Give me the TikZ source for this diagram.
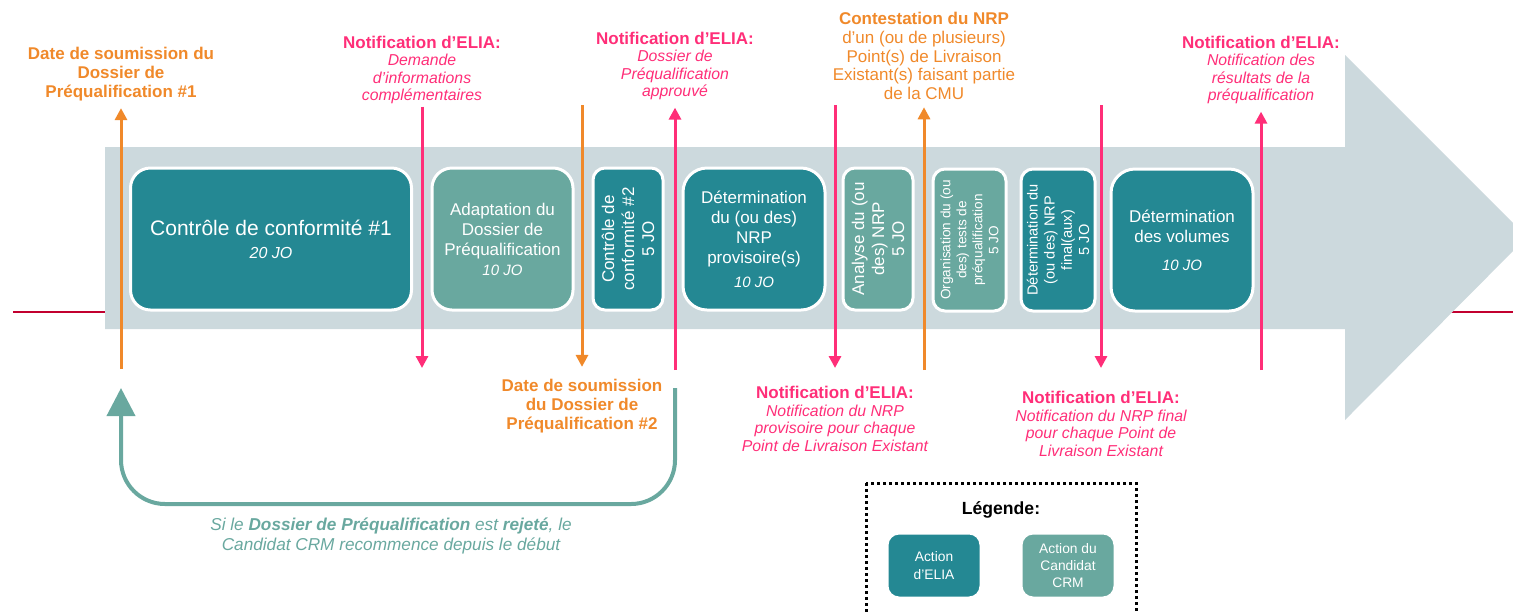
\documentclass[tikz,border=0pt]{standalone}
\usepackage{fontspec}
\setmainfont{Liberation Sans}
\usetikzlibrary{arrows.meta}
\definecolor{eliateal}{HTML}{248893}
\definecolor{crmteal}{HTML}{69A89F}
\definecolor{arrowgrey}{HTML}{CCD9DD}
\definecolor{elorange}{HTML}{F0892A}
\definecolor{elpink}{HTML}{FF2E78}
\definecolor{axisred}{HTML}{C2002F}
\newcommand{\dur}[1]{{\fontsize{7.5}{9}\selectfont\itshape #1 JO}}
\newcommand{\itl}[1]{{\fontsize{7.9}{8.8}\selectfont\itshape #1}}

\begin{document}
\begin{tikzpicture}[x=0.5pt,y=-0.5pt,
	box/.style={draw=white,line width=1.5pt,rounded corners=10pt,text=white,align=center,inner sep=0pt,font=\fontsize{8.5}{10}\selectfont},
	elia/.style={box,fill=eliateal},
	crm/.style={box,fill=crmteal},
	slim/.style={rotate=90,rounded corners=6pt,minimum width=71pt},
	lab/.style={align=center,inner sep=0pt,font=\fontsize{8.5}{9.4}\selectfont},
	boldlab/.style={lab,text=elorange,font=\fontsize{8.5}{9.4}\selectfont\bfseries},
	pinklab/.style={lab,text=elpink,font=\fontsize{8.5}{8.8}\selectfont},
	pinkline/.style={draw=elpink,line width=1.5pt,-{Triangle[length=6pt,width=6pt]}},
	orangeline/.style={pinkline,draw=elorange}]
		\useasboundingbox (0,0) rectangle (1513,612);
		\draw[axisred,line width=1pt] (13,312) -- (1513,312);
		\fill[arrowgrey] (105,147) -- (1345,147) -- (1345,55) -- (1527,237) -- (1345,420) -- (1345,329) -- (105,329) -- cycle;
		\node[elia,minimum width=140.5pt,minimum height=71pt,font=\fontsize{10.5}{11.5}\selectfont] (conf1) at (271,239) {Contrôle de conformité \#1\\{\fontsize{8}{9}\selectfont\itshape 20 JO}};
		\node[crm,minimum width=70.5pt,minimum height=71pt] (adapt) at (502.5,239) {Adaptation du\\Dossier de\\Préqualification\\\dur{10}};
		\node[elia,slim,minimum height=35pt] (conf2) at (628,239) {Contrôle de\\conformité \#2\\5 JO};
		\node[elia,minimum width=71pt,minimum height=71pt,rounded corners=12pt] (nrpprov) at (754,239) {Détermination\\du (ou des)\\NRP\\provisoire(s)\\[2pt]\dur{10}};
		\node[crm,slim,minimum height=35pt] (analyse) at (878,239) {Analyse du (ou\\des) NRP\\5 JO};
		\node[crm,slim,minimum height=36.5pt,font=\fontsize{6.8}{8}\selectfont] (tests) at (969.5,240) {Organisation du (ou\\des) tests de\\préqualification\\5 JO};
		\node[elia,slim,minimum height=37pt,font=\fontsize{7.3}{8.6}\selectfont] (nrpfinal) at (1058,240) {Détermination du\\(ou des) NRP\\final(aux)\\5 JO};
		\node[elia,minimum width=71pt,minimum height=71pt,rounded corners=12pt] (volumes) at (1182,240) {Détermination\\des volumes\\[4pt]\dur{10}};
	%	top and bottom events
		\node[boldlab] (sub1) at (121,74) {Date de soumission du\\Dossier de\\Préqualification \#1};
		\node[pinklab] (note1) at (422,70) {\textbf{Notification d’ELIA:}\\\itl{Demande}\\\itl{d’informations}\\\itl{complémentaires}};
		\node[pinklab] (note2) at (675,66) {\textbf{Notification d’ELIA:}\\\itl{Dossier de}\\\itl{Préqualification}\\\itl{approuvé}};
		\node[lab,text=elorange] (contest) at (924,56) {\textbf{Contestation du NRP}\\d’un (ou de plusieurs)\\Point(s) de Livraison\\Existant(s) faisant partie\\de la CMU};
		\node[pinklab] (note5) at (1261,70) {\textbf{Notification d’ELIA:}\\\itl{Notification des}\\\itl{résultats de la}\\\itl{préqualification}};
		\node[boldlab] (sub2) at (582,406) {Date de soumission\\du Dossier de\\Préqualification \#2};
		\node[pinklab] (note3) at (835,419) {\textbf{Notification d’ELIA:}\\\itl{Notification du NRP}\\\itl{provisoire pour chaque}\\\itl{Point de Livraison Existant}};
		\node[pinklab] (note4) at (1101,424) {\textbf{Notification d’ELIA:}\\\itl{Notification du NRP final}\\\itl{pour chaque Point de}\\\itl{Livraison Existant}};
		\coordinate (b1) at (121,369);
		\coordinate (e1) at (422,368);
		\coordinate (t2) at (582,105);
		\coordinate (b2) at (675,370);
		\coordinate (e3) at (835,368);
		\coordinate (b4) at (924,370);
		\coordinate (e4) at (1101,368);
		\coordinate (b5) at (1261,370);
		\draw[orangeline,shorten >=3.5pt] (b1) -- (sub1);
		\draw[pinkline,shorten <=1pt] (note1) -- (e1);
		\draw[orangeline,shorten >=6pt] (t2) -- (sub2);
		\draw[pinkline,shorten >=3.5pt] (b2) -- (note2);
		\draw[pinkline] (note3.north |- t2) -- (e3);
		\draw[orangeline,shorten >=3.5pt] (b4) -- (contest);
		\draw[pinkline] (note4.north |- t2) -- (e4);
		\draw[pinkline,shorten >=3.5pt] (b5) -- (note5);
	%	restart loop
		\coordinate (lp0) at (675,388);
		\coordinate (lp1) at (121,388);
		\draw[crmteal,line width=2pt,rounded corners=22pt,-{Triangle[length=14pt,width=14pt]}] (lp0) -- (675,504) -- (121,504) -- (lp1);
		\node[lab,text=crmteal,font=\fontsize{8.6}{10}\selectfont\itshape] (retry) at (391,536) {Si le \textbf{Dossier de Préqualification} est \textbf{rejeté}, le\\Candidat CRM recommence depuis le début};
	%	legend
		\draw[line width=1.5pt,dash pattern=on 1.5pt off 1.5pt] (866,483) rectangle (1136,616);
		\node[font=\fontsize{8.8}{10}\selectfont\bfseries] (legtitle) at (1001,510) {Légende:};
		\node[elia,minimum width=47pt,minimum height=32.5pt,rounded corners=6pt,font=\fontsize{6.9}{8.6}\selectfont] (legelia) at (934,565.5) {Action\\d’ELIA};
		\node[crm,minimum width=47pt,minimum height=32.5pt,rounded corners=6pt,font=\fontsize{6.9}{8.6}\selectfont] (legcrm) at (1068,565.5) {Action du\\Candidat\\CRM};
	\end{tikzpicture}
\end{document}
